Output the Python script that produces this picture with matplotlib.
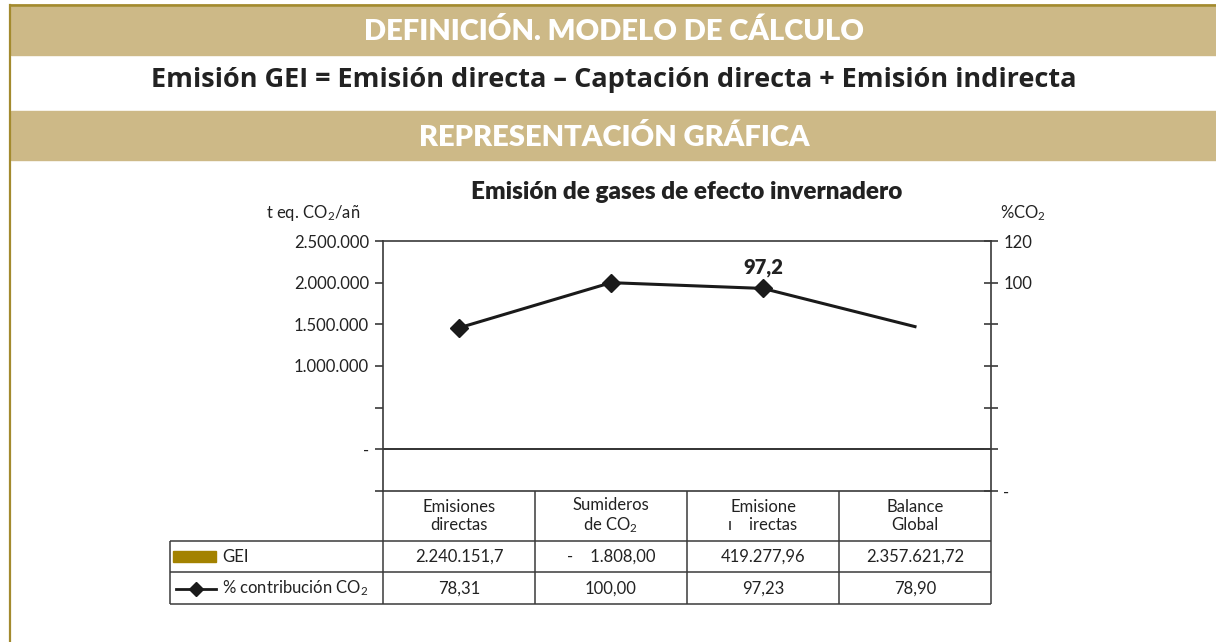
import matplotlib.pyplot as plt
from matplotlib.patches import Rectangle
from matplotlib.lines import Line2D

plt.rcParams['font.family'] = ['Lato', 'DejaVu Sans']
plt.rcParams['mathtext.fontset'] = 'custom'
plt.rcParams['mathtext.rm'] = 'Lato'
plt.rcParams['mathtext.it'] = 'Lato'

# data
categories = ["Emisiones\ndirectas", "Sumideros\nde CO$_2$", "Emisione\n\u0131    irectas", "Balance\nGlobal"]
gei_values = [2240151.7, -1808.00, 419277.96, 2357621.72]
gei_labels = ["2.240.151,7", "-    1.808,00", "419.277,96", "2.357.621,72"]
pct_co2 = [78.31, 100.00, 97.23, 78.90]

left_ticks = [-500000, 0, 500000, 1000000, 1500000, 2000000, 2500000]
left_ticklabels = ["", "-", "", "1.000.000", "1.500.000", "2.000.000", "2.500.000"]
right_ticks = [0, 20, 40, 60, 80, 100, 120]
right_ticklabels = ["-", "", "", "", "", "100", "120"]

W, H = 1216, 642
band = '#CDB987'
gold = '#A38A2E'
ink = '#222222'
grid_c = '#3a3a3a'
fs = 12

fig = plt.figure(figsize=(W / 100, H / 100), dpi=100)


def fx(x):
    return x / W


def fy(y):
    return 1 - y / H


# header bands and gold border
for y0, y1 in [(7, 55), (111, 160)]:
    fig.patches.append(Rectangle((fx(11), fy(y1)), 1 - fx(11), (y1 - y0) / H,
                                 transform=fig.transFigure, color=band, zorder=0))
fig.add_artist(Line2D([fx(10), 1], [fy(5), fy(5)], color=gold, lw=2))
fig.add_artist(Line2D([fx(10), fx(10)], [fy(5), 0], color=gold, lw=1.6))

fig.text(fx(614), fy(32), "DEFINICIÓN. MODELO DE CÁLCULO", color='white',
         fontsize=21, fontweight='heavy', ha='center', va='center')
fig.text(fx(614), fy(80), "Emisión GEI = Emisión directa – Captación directa + Emisión indirecta",
         color=ink, fontsize=19.5, fontweight='bold', ha='center', va='center',
         family=['Open Sans', 'DejaVu Sans'])
fig.text(fx(614), fy(137), "REPRESENTACIÓN GRÁFICA", color='white',
         fontsize=21, fontweight='heavy', ha='center', va='center')

# chart
ax = fig.add_axes([fx(383), fy(491), fx(991) - fx(383), (491 - 241) / H])
ax.set_xlim(-0.5, 3.5)
ax.set_ylim(-500000, 2500000)
ax.set_xticks([])
ax.set_yticks(left_ticks)
ax.set_yticklabels(left_ticklabels)
ax.axhline(0, color=ink, lw=1.3)
for s in ax.spines.values():
    s.set_color(grid_c)
    s.set_linewidth(1.2)
ax.tick_params(axis='y', direction='out', length=6, width=1.2, color=grid_c,
               labelsize=fs, labelcolor=ink, pad=4)

ax2 = ax.twinx()
ax2.set_ylim(0, 120)
ax2.set_yticks(right_ticks)
ax2.set_yticklabels(right_ticklabels)
ax2.tick_params(axis='y', direction='inout', length=10, width=1.2, color=grid_c,
                labelsize=fs, labelcolor=ink, pad=4)
for s in ax2.spines.values():
    s.set_visible(False)
ax2.plot(range(len(pct_co2)), pct_co2, color='#1a1a1a', lw=2.2, marker='D', ms=9,
         markevery=[0, 1, 2])
ax2.annotate("97,2", (2, pct_co2[2]), xytext=(0, 8), textcoords='offset points',
             ha='center', va='bottom', fontsize=14.5, fontweight='heavy', color=ink)

ax.set_title("Emisión de gases de efecto invernadero", fontsize=17.5, fontweight='heavy',
             color=ink, pad=30)
fig.text(fx(266), fy(213), "t eq. CO$_2$/añ", fontsize=fs, color=ink, va='center')
fig.text(fx(1000), fy(213), "%CO$_2$", fontsize=fs, color=ink, va='center')

# data table
lc = (383 - 170) / 152
tax = fig.add_axes([fx(170), fy(604), fx(991) - fx(170), (604 - 491) / H])
tax.set_xlim(-0.5 - lc, 3.5)
tax.set_ylim(113, 0)
tax.axis('off')


def px(x):
    return (x - 383) / 152 - 0.5


lk = dict(color=grid_c, lw=1.1, clip_on=False)
tax.vlines([-0.5, 0.5, 1.5, 2.5, 3.5], 0, 113, **lk)
tax.vlines([-0.5 - lc], 50, 113, **lk)
tax.hlines([50, 81, 113], -0.5 - lc, 3.5, **lk)

for i, c in enumerate(categories):
    tax.text(i, 25, c, ha='center', va='center', fontsize=fs, color=ink, linespacing=1.15)
    tax.text(i, 66, gei_labels[i], ha='center', va='center', fontsize=fs, color=ink)
    tax.text(i, 97.5, f"{pct_co2[i]:.2f}".replace('.', ','), ha='center', va='center',
             fontsize=fs, color=ink)

tax.add_patch(Rectangle((px(173), 60), px(216) - px(173), 11, color='#A38200', clip_on=False))
tax.text(px(222), 66, "GEI", va='center', fontsize=fs, color=ink)
tax.plot([px(176), px(216)], [98, 98], color='#1a1a1a', lw=2, clip_on=False)
tax.plot([px(196)], [98], marker='D', ms=7, color='#1a1a1a', clip_on=False)
tax.text(px(222), 97.5, "% contribución CO$_2$", va='center', fontsize=fs, color=ink)

fig.savefig("out.png", dpi=100)
